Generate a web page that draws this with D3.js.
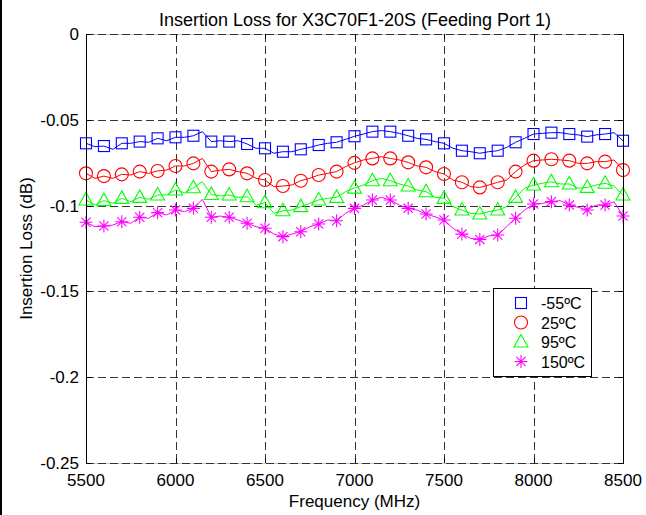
<!DOCTYPE html>
<html><head><meta charset="utf-8">
<script src="https://cdn.jsdelivr.net/npm/d3@7"></script>
<style>body{margin:0;background:#fff}svg{display:block;font-family:"Liberation Sans",Arial,sans-serif}</style>
</head><body>
<script>
const freqs = d3.range(5500, 8501, 50);
const seriesNames = ["-55ºC", "25ºC", "95ºC", "150ºC"];
const colors = ["#0000ff", "#ff0000", "#00ff00", "#ff00ff"];
const markerKinds = ["square", "circle", "triangle", "star"];
const xTicks = [5500, 6000, 6500, 7000, 7500, 8000, 8500];
const yTicks = [0, -0.05, -0.1, -0.15, -0.2, -0.25];
const yTickLabels = ["0", "-0.05", "-0.1", "-0.15", "-0.2", "-0.25"];

const lossM55 = [-0.0637,-0.0657,-0.0653,-0.0672,-0.0637,-0.0637,-0.0627,-0.0631,-0.0608,-0.0622,-0.0602,-0.0602,-0.0593,-0.0569,-0.0627,-0.0622,-0.0627,-0.0622,-0.0641,-0.0666,-0.0666,-0.0695,-0.0686,-0.0686,-0.0672,-0.0661,-0.0647,-0.0637,-0.0631,-0.0614,-0.0596,-0.0583,-0.0569,-0.0563,-0.0569,-0.0579,-0.0593,-0.0608,-0.0614,-0.0627,-0.0637,-0.0666,-0.068,-0.0686,-0.0695,-0.0686,-0.068,-0.0661,-0.0631,-0.0608,-0.0583,-0.0579,-0.0575,-0.0575,-0.0583,-0.0588,-0.0598,-0.0588,-0.0583,-0.0575,-0.0622];
const loss25 = [-0.0812,-0.0841,-0.0828,-0.0841,-0.0818,-0.0822,-0.0802,-0.0812,-0.0798,-0.0793,-0.0769,-0.0769,-0.0754,-0.0725,-0.0802,-0.0793,-0.0789,-0.0802,-0.0812,-0.0841,-0.0851,-0.089,-0.0886,-0.088,-0.0855,-0.0841,-0.0822,-0.0812,-0.0802,-0.0773,-0.0751,-0.0734,-0.0725,-0.0715,-0.0725,-0.0734,-0.0748,-0.0769,-0.0777,-0.0802,-0.0816,-0.0851,-0.0864,-0.089,-0.0894,-0.088,-0.0864,-0.0851,-0.0802,-0.0763,-0.0738,-0.0734,-0.073,-0.0734,-0.0738,-0.0754,-0.0754,-0.0744,-0.0744,-0.0734,-0.0793];
const loss95 = [-0.0967,-0.0997,-0.0971,-0.0987,-0.0958,-0.0977,-0.0952,-0.0963,-0.0938,-0.0938,-0.0909,-0.0925,-0.0896,-0.0861,-0.0935,-0.0944,-0.0938,-0.0952,-0.0948,-0.0997,-0.0983,-0.1045,-0.103,-0.1026,-0.1006,-0.0987,-0.0967,-0.0958,-0.0952,-0.0919,-0.0898,-0.088,-0.0855,-0.0841,-0.0855,-0.0874,-0.0886,-0.0909,-0.0919,-0.0952,-0.0958,-0.1006,-0.1026,-0.1045,-0.1049,-0.1035,-0.1026,-0.1006,-0.0952,-0.0899,-0.088,-0.087,-0.0861,-0.0874,-0.0874,-0.0899,-0.0894,-0.088,-0.087,-0.0886,-0.0938];
const loss150 = [-0.1097,-0.1123,-0.1119,-0.1113,-0.1094,-0.1103,-0.1068,-0.1074,-0.1041,-0.1055,-0.1026,-0.1035,-0.1016,-0.0964,-0.1068,-0.1061,-0.1068,-0.1084,-0.1103,-0.1123,-0.1132,-0.1166,-0.1181,-0.1166,-0.1152,-0.1123,-0.1107,-0.1084,-0.1088,-0.1045,-0.1016,-0.0997,-0.0967,-0.0952,-0.0967,-0.0997,-0.1016,-0.1026,-0.1049,-0.1065,-0.1084,-0.1132,-0.1166,-0.1191,-0.1197,-0.1177,-0.1171,-0.1123,-0.1074,-0.1026,-0.0991,-0.0987,-0.0977,-0.0971,-0.0997,-0.101,-0.1026,-0.0997,-0.0997,-0.0977,-0.1061];
const allSeries = [lossM55, loss25, loss95, loss150];

const W = 646, H = 515;
const m = {left: 86, top: 34, right: 623, bottom: 463};
const svg = d3.select("body").append("svg").attr("width", W).attr("height", H);
svg.append("rect").attr("width", W).attr("height", H).attr("fill", "#fff");
svg.append("rect").attr("x", 0).attr("y", 0).attr("width", 2).attr("height", H).attr("fill", "#000");

const x = d3.scaleLinear().domain([5500, 8500]).range([m.left, m.right]);
const y = d3.scaleLinear().domain([-0.25, 0]).range([m.bottom, m.top]);

const g = svg.append("g");
// faint top/bottom box edges
[m.top, m.bottom].forEach(yy => {
  g.append("line").attr("x1", m.left).attr("x2", m.right).attr("y1", yy + 0.5).attr("y2", yy + 0.5)
    .attr("stroke", "#c8c8c8");
});
// grid
g.selectAll(".gx").data(xTicks).join("line")
  .attr("x1", d => Math.round(x(d)) + 0.5).attr("x2", d => Math.round(x(d)) + 0.5)
  .attr("y1", m.top).attr("y2", m.bottom)
  .attr("stroke", "#333").attr("stroke-dasharray", "8,4").attr("stroke-width", 1);
g.selectAll(".gy").data(yTicks).join("line")
  .attr("y1", d => Math.round(y(d)) + 0.5).attr("y2", d => Math.round(y(d)) + 0.5)
  .attr("x1", m.left).attr("x2", m.right)
  .attr("stroke", "#333").attr("stroke-dasharray", "8,4").attr("stroke-width", 1);

// tick marks (inward, all sides)
const tl = 5;
xTicks.forEach(d => {
  const xx = Math.round(x(d)) + 0.5;
  g.append("line").attr("x1", xx).attr("x2", xx).attr("y1", m.bottom).attr("y2", m.bottom - tl).attr("stroke", "#000");
  g.append("line").attr("x1", xx).attr("x2", xx).attr("y1", m.top).attr("y2", m.top + tl).attr("stroke", "#000");
});
yTicks.forEach(d => {
  const yy = Math.round(y(d)) + 0.5;
  g.append("line").attr("y1", yy).attr("y2", yy).attr("x1", m.left).attr("x2", m.left + tl).attr("stroke", "#000");
  g.append("line").attr("y1", yy).attr("y2", yy).attr("x1", m.right).attr("x2", m.right - tl).attr("stroke", "#000");
});

// lines and markers
const line = d3.line().x((d, i) => x(freqs[i])).y(d => y(d));
function drawMarker(sel, kind, cx, cy, color) {
  const mg = sel.append("g").attr("transform", `translate(${cx},${cy})`)
    .attr("fill", "none").attr("stroke", color).attr("stroke-width", 1.1);
  if (kind === "square") mg.append("rect").attr("x", -5.5).attr("y", -5.5).attr("width", 11).attr("height", 11);
  else if (kind === "circle") mg.append("circle").attr("r", 6.5);
  else if (kind === "triangle") mg.append("path").attr("d", "M0,-7.5L7,5L-7,5Z");
  else if (kind === "star") {
    const r = 6.5, s = r * Math.SQRT1_2;
    mg.append("path").attr("d", `M${-r},0L${r},0M0,${-r}L0,${r}M${-s},${-s}L${s},${s}M${-s},${s}L${s},${-s}`);
  }
}
allSeries.forEach((vals, k) => {
  g.append("path").datum(vals).attr("d", line).attr("fill", "none")
    .attr("stroke", colors[k]).attr("stroke-width", 1);
  const mg = g.append("g");
  vals.forEach((v, i) => {
    if (i % 2 === 0) drawMarker(mg, markerKinds[k], x(freqs[i]), y(v), colors[k]);
  });
});

// left/right axis edges
[m.left, m.right].forEach(xx => {
  g.append("line").attr("x1", xx + 0.5).attr("x2", xx + 0.5).attr("y1", m.top).attr("y2", m.bottom + 1)
    .attr("stroke", "#000");
});

// tick labels
svg.selectAll(".xl").data(xTicks).join("text")
  .attr("x", d => x(d)).attr("y", 486).attr("text-anchor", "middle")
  .attr("font-size", 17).text(d => d);
svg.selectAll(".yl").data(yTicks).join("text")
  .attr("x", 79).attr("y", d => y(d) + 6).attr("text-anchor", "end")
  .attr("font-size", 17).text((d, i) => yTickLabels[i]);

// labels
svg.append("text").attr("x", 355).attr("y", 25.5).attr("text-anchor", "middle")
  .attr("font-size", 18).text("Insertion Loss for X3C70F1-20S (Feeding Port 1)");
svg.append("text").attr("x", (m.left + m.right) / 2).attr("y", 507).attr("text-anchor", "middle")
  .attr("font-size", 17).text("Frequency (MHz)");
svg.append("text").attr("transform", `translate(32,${(m.top + m.bottom) / 2}) rotate(-90)`)
  .attr("text-anchor", "middle").attr("font-size", 17).text("Insertion Loss (dB)");

// legend
const lg = svg.append("g");
lg.append("rect").attr("x", 493.5).attr("y", 288.5).attr("width", 98).attr("height", 88)
  .attr("fill", "#fff").attr("stroke", "#000");
const rowY = [303, 322.5, 342, 361.5];
seriesNames.forEach((n, k) => {
  drawMarker(lg, markerKinds[k], 521, rowY[k], colors[k]);
  lg.append("text").attr("x", 541).attr("y", rowY[k] + 6).attr("font-size", 16).text(n);
});
</script>
</body></html>
